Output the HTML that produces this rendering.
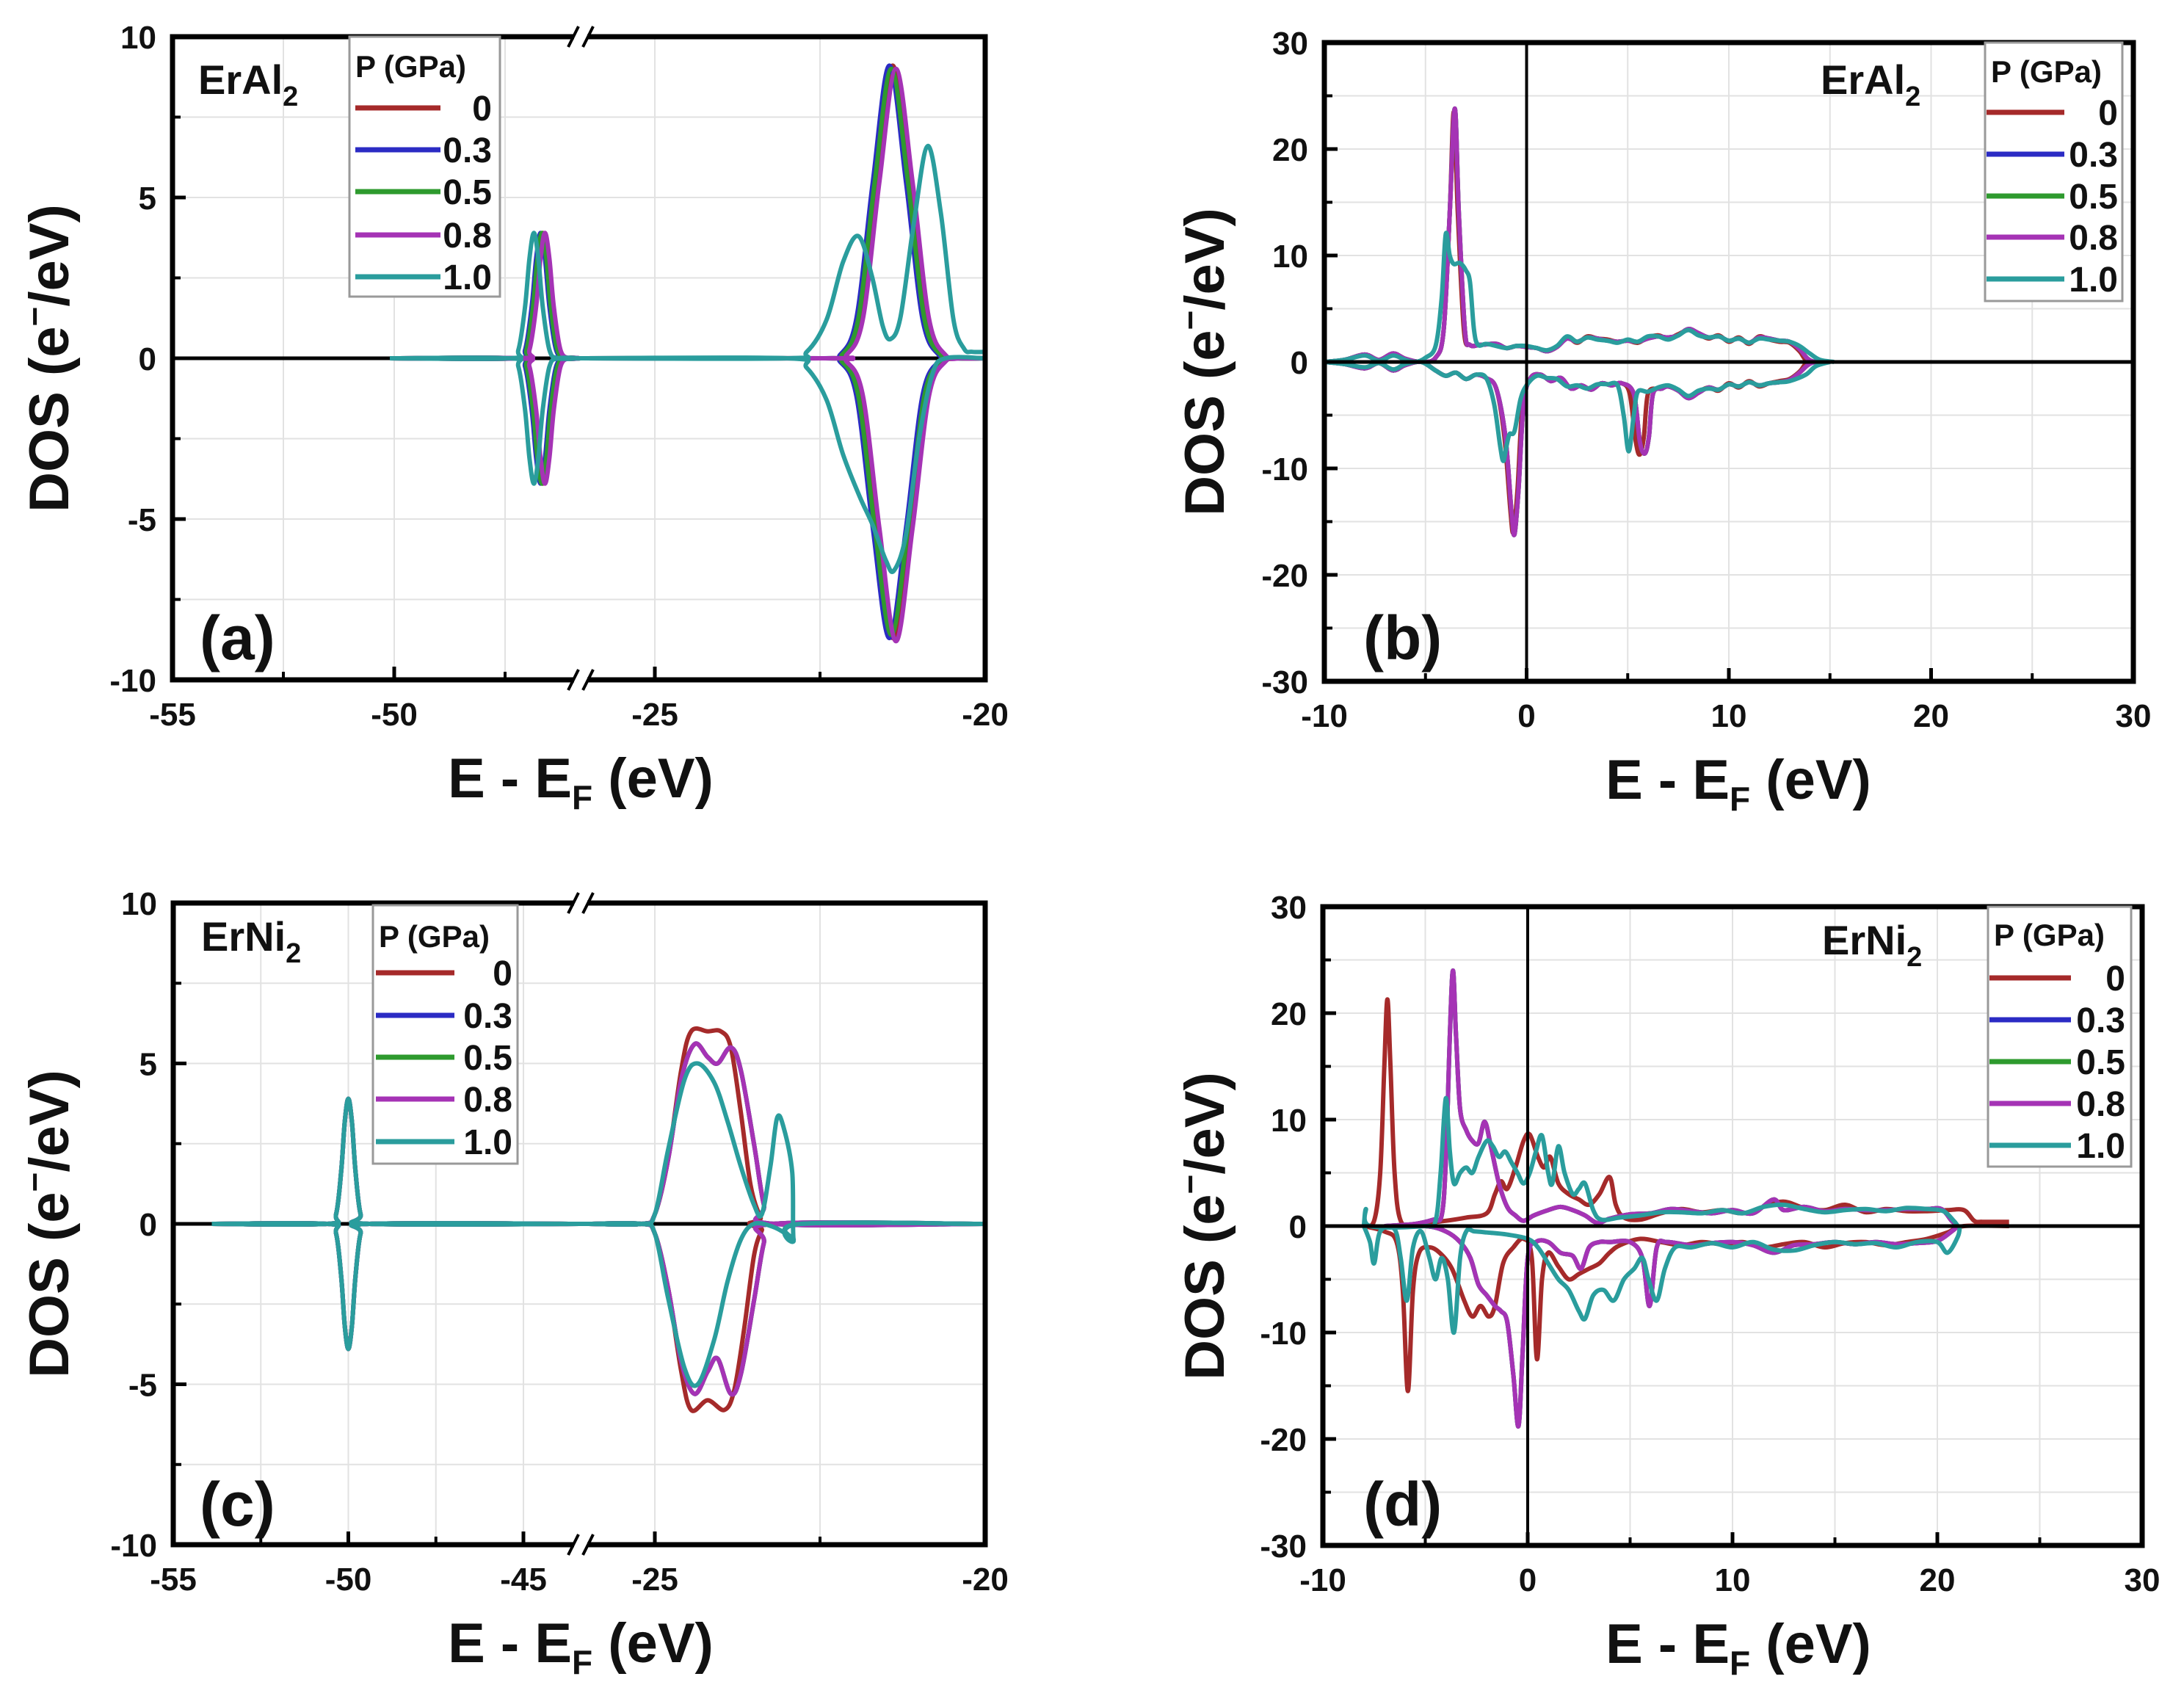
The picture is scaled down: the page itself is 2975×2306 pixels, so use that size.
<!DOCTYPE html>
<html><head><meta charset="utf-8"><style>
html,body{margin:0;padding:0;background:#fff}
svg{display:block}
text{font-family:"Liberation Sans",Arial,sans-serif;font-weight:bold;fill:#111}
</style></head><body>
<svg id="fig" width="2975" height="2306" viewBox="0 0 2975 2306" xmlns="http://www.w3.org/2000/svg"></svg>
<script>
// ---------- series metadata ----------
const pressures = ['0','0.3','0.5','0.8','1.0'];
const colors = ['#a52a2a','#2b2bc4','#2e9a2e','#a533b5','#2a9d9d'];

// ---------- panel (a) ErAl2 semicore ----------
const aUp0 = [[-50.1,0],[-47.2,0],[-47.0,0.26],[-46.85,1.6],[-46.75,3.1],[-46.65,3.9],[-46.55,3.1],[-46.45,1.6],[-46.3,0.26],[-46.1,0],[-45.8,0],[-26.1,0],[-22.4,0],[-22.15,0.1],[-21.9,1.23],[-21.65,5.5],[-21.4,9.1],[-21.15,5.5],[-20.9,1.23],[-20.65,0.1],[-20.4,0],[-20,0]];
const aDn0 = [[-50.1,0],[-47.2,0],[-47.0,-0.26],[-46.85,-1.6],[-46.75,-3.1],[-46.65,-3.9],[-46.55,-3.1],[-46.45,-1.6],[-46.3,-0.26],[-46.1,0],[-45.8,0],[-26.1,0],[-22.4,0],[-22.15,-0.1],[-21.9,-1.17],[-21.65,-5.3],[-21.4,-8.7],[-21.15,-5.3],[-20.9,-1.17],[-20.65,-0.1],[-20.4,0],[-20,0]];
const aUp3 = [[-50.1,0],[-47.25,0],[-47.05,0.26],[-46.9,1.6],[-46.8,3.1],[-46.7,3.9],[-46.6,3.1],[-46.5,1.6],[-46.35,0.26],[-46.15,0],[-45.8,0],[-26.1,0],[-22.45,0],[-22.2,0.1],[-21.95,1.23],[-21.7,5.5],[-21.45,9.1],[-21.2,5.5],[-20.95,1.23],[-20.7,0.1],[-20.45,0],[-20,0]];
const aDn3 = [[-50.1,0],[-47.25,0],[-47.05,-0.26],[-46.9,-1.6],[-46.8,-3.1],[-46.7,-3.9],[-46.6,-3.1],[-46.5,-1.6],[-46.35,-0.26],[-46.15,0],[-45.8,0],[-26.1,0],[-22.45,0],[-22.2,-0.1],[-21.95,-1.17],[-21.7,-5.3],[-21.45,-8.7],[-21.2,-5.3],[-20.95,-1.17],[-20.7,-0.1],[-20.45,0],[-20,0]];
const aUp5 = [[-50.1,0],[-47.22,0],[-47.02,0.26],[-46.87,1.6],[-46.77,3.1],[-46.67,3.9],[-46.57,3.1],[-46.47,1.6],[-46.32,0.26],[-46.12,0],[-45.8,0],[-26.1,0],[-22.42,0],[-22.17,0.1],[-21.92,1.23],[-21.67,5.5],[-21.42,9.0],[-21.17,5.5],[-20.92,1.23],[-20.67,0.1],[-20.42,0],[-20,0]];
const aDn5 = [[-50.1,0],[-47.22,0],[-47.02,-0.26],[-46.87,-1.6],[-46.77,-3.1],[-46.67,-3.9],[-46.57,-3.1],[-46.47,-1.6],[-46.32,-0.26],[-46.12,0],[-45.8,0],[-26.1,0],[-22.42,0],[-22.17,-0.1],[-21.92,-1.17],[-21.67,-5.3],[-21.42,-8.6],[-21.17,-5.3],[-20.92,-1.17],[-20.67,-0.1],[-20.42,0],[-20,0]];
const aUp8 = [[-50.1,0],[-47.15,0],[-46.95,0.26],[-46.8,1.6],[-46.7,3.1],[-46.6,3.9],[-46.5,3.1],[-46.4,1.6],[-46.25,0.26],[-46.05,0],[-45.8,0],[-26.1,0],[-22.35,0],[-22.1,0.1],[-21.85,1.23],[-21.6,5.5],[-21.35,9.0],[-21.1,5.5],[-20.85,1.23],[-20.6,0.1],[-20.35,0],[-20,0]];
const aDn8 = [[-50.1,0],[-47.15,0],[-46.95,-0.26],[-46.8,-1.6],[-46.7,-3.1],[-46.6,-3.9],[-46.5,-3.1],[-46.4,-1.6],[-46.25,-0.26],[-46.05,0],[-45.8,0],[-26.1,0],[-22.35,0],[-22.1,-0.1],[-21.85,-1.17],[-21.6,-5.3],[-21.35,-8.8],[-21.1,-5.3],[-20.85,-1.17],[-20.6,-0.1],[-20.35,0],[-20,0]];
const aUp10 = [[-50.1,0],[-47.4,0],[-47.2,0.26],[-47.05,1.6],[-46.95,3.1],[-46.85,3.9],[-46.75,3.1],[-46.65,1.6],[-46.5,0.26],[-46.3,0],[-45.8,0],[-26.1,0],[-23.0,0],[-22.7,0.2],[-22.4,1.2],[-22.15,3.0],[-21.92,3.8],[-21.72,2.6],[-21.55,1.0],[-21.43,0.6],[-21.28,1.3],[-21.08,4.2],[-20.87,6.6],[-20.67,4.5],[-20.48,1.2],[-20.32,0.3],[-20.2,0.2],[-20,0.2]];
const aDn10 = [[-50.1,0],[-47.4,0],[-47.2,-0.26],[-47.05,-1.6],[-46.95,-3.1],[-46.85,-3.9],[-46.75,-3.1],[-46.65,-1.6],[-46.5,-0.26],[-46.3,0],[-45.8,0],[-26.1,0],[-23.0,0],[-22.7,-0.3],[-22.4,-1.3],[-22.15,-3.0],[-21.9,-4.3],[-21.7,-5.2],[-21.5,-6.3],[-21.38,-6.6],[-21.2,-5.5],[-21.0,-2.5],[-20.8,-0.5],[-20.6,0],[-20,0]];

// ---------- panel (b) ErAl2 valence ----------
const bUp0 = [[-10,0],[-9,0.2],[-8,0.7],[-7.3,0.2],[-6.6,0.8],[-6,0.3],[-5.2,0],[-4.5,0.4],[-4.1,3],[-3.8,14],[-3.6,23.5],[-3.4,14],[-3.1,3],[-2.8,1.6],[-2.3,1.6],[-1.5,1.7],[-1,1.3],[-0.5,1.5],[0,1.4],[0.5,1.3],[1,1.0],[1.5,1.4],[2,2.3],[2.5,1.8],[3,2.4],[3.5,2.2],[4,2.1],[4.5,1.9],[5,2.0],[5.5,1.8],[6,2.3],[6.5,2.5],[7,2.2],[7.5,2.6],[8,3.0],[8.5,2.6],[9,2.2],[9.5,2.5],[10,1.9],[10.5,2.3],[11,1.7],[11.5,2.4],[12,2.1],[12.5,1.9],[13,1.8],[13.5,1.0],[13.8,0.2],[14.2,0],[15,0]];
const bDn0 = [[-10,0],[-9,-0.2],[-8,-0.6],[-7.3,-0.1],[-6.6,-0.8],[-6,-0.3],[-5.2,0],[-4.5,-0.8],[-4,-1.3],[-3.5,-1.0],[-3,-1.6],[-2.5,-1.2],[-2,-1.5],[-1.5,-2.5],[-1.1,-7],[-0.8,-14],[-0.65,-16],[-0.45,-12],[-0.2,-4],[0.2,-1.5],[0.7,-1.2],[1.2,-1.8],[1.7,-1.5],[2.2,-2.5],[2.7,-2.2],[3.2,-2.6],[3.7,-2.0],[4.2,-2.2],[4.7,-2.0],[5.1,-3.0],[5.4,-7.5],[5.6,-8.7],[5.8,-7.0],[6.0,-3.0],[6.5,-2.5],[7,-2.3],[7.5,-2.7],[8,-3.3],[8.5,-2.8],[9,-2.4],[9.5,-2.7],[10,-2.0],[10.5,-2.4],[11,-1.8],[11.5,-2.3],[12,-2.0],[12.5,-1.8],[13,-1.6],[13.5,-0.9],[13.8,-0.2],[14.2,0],[15,0]];
const bUpMid = [[-10,0],[-9,0.2],[-8,0.7],[-7.3,0.2],[-6.6,0.8],[-6,0.3],[-5.2,0],[-4.5,0.4],[-4.1,3],[-3.8,14],[-3.55,23.8],[-3.35,14],[-3.05,3],[-2.8,1.6],[-2.3,1.6],[-1.5,1.7],[-1,1.3],[-0.5,1.5],[0,1.4],[0.5,1.3],[1,1.0],[1.5,1.4],[2,2.2],[2.5,1.9],[3,2.3],[3.5,2.2],[4,2.0],[4.5,1.9],[5,2.0],[5.5,1.9],[6,2.2],[6.5,2.4],[7,2.3],[7.5,2.5],[8,3.1],[8.5,2.7],[9,2.3],[9.5,2.4],[10,2.0],[10.5,2.2],[11,1.8],[11.5,2.3],[12,2.2],[12.5,2.0],[13,1.9],[13.5,1.2],[13.9,0.3],[14.3,0],[15,0]];
const bDnMid = [[-10,0],[-9,-0.2],[-8,-0.6],[-7.3,-0.1],[-6.6,-0.8],[-6,-0.3],[-5.2,0],[-4.5,-0.8],[-4,-1.3],[-3.5,-1.0],[-3,-1.6],[-2.5,-1.2],[-2,-1.5],[-1.5,-2.5],[-1.05,-7],[-0.75,-14],[-0.6,-16.2],[-0.4,-12],[-0.15,-4],[0.2,-1.5],[0.7,-1.2],[1.2,-1.8],[1.7,-1.5],[2.2,-2.5],[2.7,-2.2],[3.2,-2.6],[3.7,-2.0],[4.2,-2.2],[4.7,-2.0],[5.3,-3.0],[5.6,-7.5],[5.85,-8.6],[6.05,-7.0],[6.25,-3.0],[6.7,-2.5],[7,-2.3],[7.5,-2.7],[8,-3.4],[8.5,-2.9],[9,-2.4],[9.5,-2.6],[10,-2.1],[10.5,-2.3],[11,-1.9],[11.5,-2.2],[12,-2.0],[12.5,-1.9],[13,-1.7],[13.5,-1.0],[13.9,-0.3],[14.3,0],[15,0]];
const bUp10 = [[-10,0],[-9,0.2],[-8,0.6],[-7.3,0.1],[-6.6,0.6],[-6,0.2],[-5.5,0],[-5,0.4],[-4.5,1.5],[-4.2,6],[-4.0,12],[-3.8,10],[-3.6,9.2],[-3.3,9.3],[-3.0,8.6],[-2.8,7.5],[-2.6,3],[-2.4,1.6],[-2,1.7],[-1.5,1.5],[-1,1.3],[-0.5,1.5],[0,1.5],[0.5,1.3],[1,1.1],[1.5,1.5],[2,2.4],[2.5,1.9],[3,2.3],[3.5,2.1],[4,2.0],[4.5,1.8],[5,2.1],[5.5,1.9],[6,2.4],[6.5,2.4],[7,2.1],[7.5,2.5],[8,3.0],[8.5,2.5],[9,2.3],[9.5,2.4],[10,2.0],[10.5,2.2],[11,1.8],[11.5,2.2],[12,2.1],[12.5,2.0],[13,1.9],[13.5,1.5],[14,0.8],[14.5,0.2],[15.2,0]];
const bDn10 = [[-10,0],[-9,-0.2],[-8,-0.5],[-7.3,-0.1],[-6.6,-0.7],[-6,-0.2],[-5.2,0],[-4.5,-0.8],[-4,-1.3],[-3.5,-1.0],[-3,-1.6],[-2.5,-1.2],[-2,-1.5],[-1.6,-4],[-1.3,-8],[-1.15,-9.3],[-1.0,-8],[-0.85,-6.8],[-0.6,-6.5],[-0.3,-3.5],[0,-2.2],[0.5,-1.3],[1,-1.5],[1.5,-1.6],[2,-2.3],[2.5,-2.2],[3,-2.5],[3.5,-2.1],[4,-2.1],[4.5,-2.2],[4.8,-5],[5.05,-8.4],[5.3,-5],[5.5,-2.8],[6,-2.8],[6.5,-2.4],[7,-2.2],[7.5,-2.6],[8,-3.2],[8.5,-2.7],[9,-2.5],[9.5,-2.6],[10,-2.1],[10.5,-2.3],[11,-1.9],[11.5,-2.2],[12,-2.0],[12.5,-1.9],[13,-1.8],[13.8,-1.2],[14.3,-0.4],[15,0]];

// ---------- panel (c) ErNi2 semicore ----------
const cUp0 = [[-53.9,0],[-50.6,0],[-50.35,0.3],[-50.2,1.7],[-50.1,3.2],[-50.0,3.9],[-49.9,3.2],[-49.8,1.7],[-49.65,0.3],[-49.4,0],[-43.4,0],[-26,0],[-25.2,0],[-25.0,0.3],[-24.8,2.0],[-24.6,4.8],[-24.45,6.0],[-24.2,6.0],[-24.0,6.0],[-23.85,5.5],[-23.7,3.5],[-23.55,1.2],[-23.4,0.2],[-23.3,0],[-20,0]];
const cDn0 = [[-53.9,0],[-50.6,0],[-50.35,-0.3],[-50.2,-1.7],[-50.1,-3.2],[-50.0,-3.9],[-49.9,-3.2],[-49.8,-1.7],[-49.65,-0.3],[-49.4,0],[-43.4,0],[-26,0],[-25.2,0],[-25.0,-0.3],[-24.8,-2.0],[-24.6,-4.6],[-24.45,-5.8],[-24.2,-5.5],[-23.95,-5.8],[-23.8,-5.2],[-23.65,-3.3],[-23.5,-1.0],[-23.38,-0.2],[-23.3,0],[-20,0]];
const cUpMid = [[-53.9,0],[-50.6,0],[-50.35,0.3],[-50.2,1.7],[-50.1,3.2],[-50.0,3.9],[-49.9,3.2],[-49.8,1.7],[-49.65,0.3],[-49.4,0],[-43.4,0],[-26,0],[-25.2,0],[-25.0,0.3],[-24.8,2.0],[-24.6,4.5],[-24.4,5.6],[-24.2,5.2],[-24.05,5.0],[-23.85,5.5],[-23.7,4.8],[-23.5,2.5],[-23.35,0.6],[-23.2,0],[-20,0]];
const cDnMid = [[-53.9,0],[-50.6,0],[-50.35,-0.3],[-50.2,-1.7],[-50.1,-3.2],[-50.0,-3.9],[-49.9,-3.2],[-49.8,-1.7],[-49.65,-0.3],[-49.4,0],[-43.4,0],[-26,0],[-25.2,0],[-25.0,-0.3],[-24.8,-2.0],[-24.6,-4.3],[-24.4,-5.3],[-24.2,-4.6],[-24.05,-4.2],[-23.85,-5.3],[-23.7,-4.7],[-23.5,-2.4],[-23.35,-0.6],[-23.2,0],[-20,0]];
const cUp10 = [[-53.9,0],[-50.6,0],[-50.35,0.3],[-50.2,1.7],[-50.1,3.2],[-50.0,3.9],[-49.9,3.2],[-49.8,1.7],[-49.65,0.3],[-49.4,0],[-43.4,0],[-26,0],[-25.2,0],[-25.0,0.3],[-24.8,2.3],[-24.55,4.5],[-24.35,5.0],[-24.1,4.4],[-23.9,3.2],[-23.7,1.8],[-23.5,0.6],[-23.38,0.3],[-23.25,1.8],[-23.15,3.3],[-23.05,3.0],[-22.92,1.6],[-22.9,-0.5],[-22.8,0],[-20,0]];
const cDn10 = [[-53.9,0],[-50.6,0],[-50.35,-0.3],[-50.2,-1.7],[-50.1,-3.2],[-50.0,-3.9],[-49.9,-3.2],[-49.8,-1.7],[-49.65,-0.3],[-49.4,0],[-43.4,0],[-26,0],[-25.2,0],[-25.0,-0.3],[-24.8,-2.3],[-24.55,-4.5],[-24.35,-5.0],[-24.1,-3.6],[-23.9,-1.8],[-23.7,-0.5],[-23.5,0],[-23.2,-0.1],[-22.95,-0.4],[-22.9,-0.5],[-22.8,0],[-20,0]];

// ---------- panel (d) ErNi2 valence ----------
const dUp0 = [[-8,0],[-7.5,0.5],[-7.2,5],[-7.0,15],[-6.85,21.3],[-6.7,15],[-6.5,5],[-6.2,0.5],[-5.5,0.2],[-4,0.5],[-3,0.8],[-2,1.2],[-1.6,3],[-1.3,4.2],[-1.0,3.5],[-0.6,5.5],[-0.2,8],[0.1,8.6],[0.5,6.5],[0.8,5.5],[1.1,6.5],[1.5,4],[2,3],[2.5,2.5],[3,2],[3.5,3],[4,4.6],[4.3,2],[4.7,0.8],[5.5,0.6],[6.5,1.2],[7.5,1.6],[8.5,1.3],[9.5,1.5],[10.5,1.2],[11.5,1.8],[12.5,2.3],[13.5,1.7],[14.5,1.5],[15.5,2.0],[16.5,1.3],[17.5,1.6],[18.5,1.4],[19.5,1.4],[20.5,1.5],[21.3,1.5],[21.8,0.5],[22.2,0.4],[23.5,0.4]];
const dDn0 = [[-8,0],[-7,-0.5],[-6.4,-1.5],[-6.1,-6],[-5.85,-15.5],[-5.6,-6],[-5.3,-2.5],[-4.8,-2],[-4.3,-2.5],[-3.7,-4],[-3.1,-7],[-2.7,-8.5],[-2.3,-7.5],[-1.9,-8.5],[-1.6,-7.5],[-1.2,-3.5],[-0.7,-2.0],[-0.2,-1.2],[0.2,-3],[0.45,-12.5],[0.7,-5],[1.0,-2.5],[1.5,-3.8],[2,-5],[2.5,-4.5],[3,-4],[3.5,-3.5],[4,-2.5],[4.5,-1.8],[5.5,-1.2],[6.5,-1.5],[7.5,-1.8],[8.5,-1.5],[9.5,-1.7],[10.5,-1.5],[11.5,-2.0],[12.5,-1.7],[13.5,-1.5],[14.5,-2.0],[15.5,-1.6],[16.5,-1.5],[17.5,-1.8],[18.5,-1.5],[19.5,-1.2],[20.5,-0.6],[21.3,0],[23.5,0]];
const dUpMid = [[-7,0],[-5.5,0.2],[-4.6,0.6],[-4.2,1],[-4.0,6],[-3.8,18],[-3.65,24],[-3.5,18],[-3.3,11],[-3.0,9],[-2.7,8],[-2.4,7.8],[-2.1,9.8],[-1.8,7.5],[-1.4,4],[-1.0,1.8],[-0.6,1.0],[-0.2,0.5],[0.3,1],[1,1.5],[1.6,1.8],[2.2,1.5],[2.8,1],[3.4,0.3],[4,0.7],[5,1.1],[6,1.2],[7,1.6],[8,1.4],[9,1.2],[10,1.5],[11,1.2],[12,2.5],[12.5,1.5],[13.5,1.8],[14.5,1.4],[15.5,1.6],[16.5,1.5],[17.5,1.5],[18.5,1.6],[19.5,1.6],[20.2,1.6],[20.7,0.5],[21,0]];
const dDnMid = [[-7,0],[-5,0],[-4,-0.5],[-3.3,-1.5],[-2.8,-3],[-2.4,-5.5],[-2.0,-6.5],[-1.6,-7.5],[-1.3,-8],[-1.0,-9],[-0.7,-14],[-0.45,-18.8],[-0.25,-12],[0,-3],[0.4,-1.5],[1,-1.5],[1.6,-2.5],[2.2,-2.8],[2.6,-4],[3.0,-2],[3.5,-1.5],[4,-1.5],[5,-1.5],[5.6,-3],[5.95,-7.5],[6.3,-2],[6.8,-1.5],[8,-1.8],[9,-1.6],[10,-1.5],[11,-1.8],[12,-2.5],[13,-1.8],[14,-1.7],[15,-1.5],[16,-1.7],[17,-1.5],[18,-1.7],[19,-1.6],[20,-1.4],[20.7,-0.5],[21,0]];
const dUp10 = [[-8,0],[-7.9,1.6],[-7.7,0],[-5,0],[-4.5,0.5],[-4.25,5],[-4.0,12],[-3.8,7],[-3.6,4],[-3.3,5],[-3.0,5.5],[-2.7,5],[-2.4,6.5],[-2.0,8],[-1.7,7.5],[-1.4,6.5],[-1.1,7],[-0.8,6],[-0.5,5],[-0.2,4],[0.1,5],[0.4,7],[0.7,8.5],[1.0,5],[1.2,4],[1.5,7.5],[1.8,5],[2.2,3],[2.5,3.5],[2.8,4],[3.2,1.5],[3.6,0.6],[4.5,0.8],[5.5,1],[6.5,1.3],[7.5,1.3],[8.5,1.2],[9.5,1.5],[10.5,1.2],[11.5,1.8],[12.5,2.0],[13.5,1.6],[14.5,1.3],[15.5,1.5],[16.5,1.6],[17.5,1.4],[18.5,1.7],[19.5,1.6],[20.3,1.4],[20.8,0.5],[21,0]];
const dDn10 = [[-8,0],[-7.7,-1.5],[-7.5,-3.5],[-7.2,-0.5],[-6.5,-0.3],[-6.2,-3],[-5.9,-7],[-5.6,-2],[-5.2,-0.5],[-4.8,-3],[-4.5,-5],[-4.2,-3],[-3.9,-5],[-3.6,-10],[-3.3,-3],[-3.0,-0.5],[-2.6,-0.5],[-2,-0.6],[-1,-0.8],[0,-1.2],[0.5,-2],[1,-3.5],[1.5,-5],[2.0,-6],[2.5,-8],[2.8,-8.7],[3.2,-6.5],[3.7,-6],[4.2,-7],[4.7,-5],[5.2,-4],[5.6,-3],[5.9,-5],[6.3,-7],[6.7,-4],[7.2,-2],[8,-2],[9,-1.6],[10,-2],[11,-1.5],[12,-2.2],[13,-2.3],[14,-1.8],[15,-1.5],[16,-1.7],[17,-1.6],[18,-2],[19,-1.5],[20,-1.5],[20.5,-2.5],[21,-1],[21.1,0]];

// ---------- tick labels ----------
const aXTicks = [-55,-50,-25,-20];
const aXMinor = [-52.5,-47.5,-22.5];
const cXTicks = [-55,-50,-45,-25,-20];
const cXMinor = [-52.5,-47.5,-22.5];
const abYTicks = [-10,-5,0,5,10];
const abYMinor = [-7.5,-2.5,2.5,7.5];
const vXTicks = [-10,0,10,20,30];
const vXMinor = [-5,5,15,25];
const vYTicks = [-30,-20,-10,0,10,20,30];
const vYMinor = [-25,-15,-5,5,15,25];

// ---------- drawing ----------
const NS = 'http://www.w3.org/2000/svg';
const svg = document.getElementById('fig');
function el(tag, attrs, parent){
  const e = document.createElementNS(NS, tag);
  for (const k in attrs) e.setAttribute(k, attrs[k]);
  (parent||svg).appendChild(e);
  return e;
}
function smoothPath(pts){
  let d = 'M' + pts[0][0].toFixed(1) + ' ' + pts[0][1].toFixed(1);
  for (let i=0;i<pts.length-1;i++){
    const p0 = pts[i-1]||pts[i], p1 = pts[i], p2 = pts[i+1], p3 = pts[i+2]||p2;
    const c1x = p1[0]+(p2[0]-p0[0])/6, c1y = p1[1]+(p2[1]-p0[1])/6;
    const c2x = p2[0]-(p3[0]-p1[0])/6, c2y = p2[1]-(p3[1]-p1[1])/6;
    d += ' C'+c1x.toFixed(1)+' '+c1y.toFixed(1)+' '+c2x.toFixed(1)+' '+c2y.toFixed(1)+' '+p2[0].toFixed(1)+' '+p2[1].toFixed(1);
  }
  return d;
}
function makeBroken(L, R, leftMin, leftScale, breakPx){
  return e => {
    const xl = L + (e - leftMin) * leftScale;
    const xr = 892 + (e + 25) * 90;
    if (xl <= breakPx) return xl;
    if (xr >= breakPx) return xr;
    return breakPx;
  };
}
function makeLinear(L, R, xmin, xmax){ return e => L + (e - xmin) / (xmax - xmin) * (R - L); }

const panels = [
  {id:'a', L:235, R:1342, T:50, B:926, ymin:-10, ymax:10, x:makeBroken(235,1342,-55,60.4,791), brk:791,
   xt:aXTicks, xm:aXMinor, yt:abYTicks, ym:abYMinor, zeroOnTop:false,
   series:[[aUp0,aDn0],[aUp3,aDn3],[aUp5,aDn5],[aUp8,aDn8],[aUp10,aDn10]],
   compound:['ErAl','2',270,128], tag:['(a)',272,898],
   leg:{x:476,y:50,w:205,h:354,title:105,rows:[147,204,261,320,377],l1:484,l2:600,tx:670}},
  {id:'b', L:1804, R:2906, T:58, B:928, ymin:-30, ymax:30, x:makeLinear(1804,2906,-10,30), brk:null,
   xt:vXTicks, xm:vXMinor, yt:vYTicks, ym:vYMinor, zeroOnTop:true,
   series:[[bUp0,bDn0],[bUpMid,bDnMid],[bUpMid,bDnMid],[bUpMid,bDnMid],[bUp10,bDn10]],
   compound:['ErAl','2',2480,128], tag:['(b)',1857,898],
   leg:{x:2704,y:58,w:187,h:352,title:112,rows:[153,210,267,323,380],l1:2706,l2:2812,tx:2885}},
  {id:'c', L:236, R:1342, T:1230, B:2104, ymin:-10, ymax:10, x:makeBroken(236,1342,-55,47.7,791), brk:791,
   xt:cXTicks, xm:cXMinor, yt:abYTicks, ym:abYMinor, zeroOnTop:false,
   series:[[cUp0,cDn0],[cUpMid,cDnMid],[cUpMid,cDnMid],[cUpMid,cDnMid],[cUp10,cDn10]],
   compound:['ErNi','2',274,1295], tag:['(c)',272,2078],
   leg:{x:508,y:1233,w:197,h:352,title:1290,rows:[1325,1383,1440,1497,1555],l1:512,l2:619,tx:698}},
  {id:'d', L:1802, R:2918, T:1235, B:2105, ymin:-30, ymax:30, x:makeLinear(1802,2918,-10,30), brk:null,
   xt:vXTicks, xm:vXMinor, yt:vYTicks, ym:vYMinor, zeroOnTop:true,
   series:[[dUp0,dDn0],[dUpMid,dDnMid],[dUpMid,dDnMid],[dUpMid,dDnMid],[dUp10,dDn10]],
   compound:['ErNi','2',2482,1300], tag:['(d)',1857,2078],
   leg:{x:2708,y:1235,w:195,h:354,title:1288,rows:[1332,1389,1446,1503,1560],l1:2710,l2:2821,tx:2895}}
];

panels.forEach(p => {
  const g = el('g', {});
  
  
  const Y = v => p.B - (v - p.ymin) / (p.ymax - p.ymin) * (p.B - p.T);
  p.xt.concat(p.xm).forEach(v => {
    const x = p.x(v);
    if (x > p.L + 3 && x < p.R - 3) {
      const gl = el('line', {x1:x, x2:x, y1:p.T, y2:p.B, stroke:'#e2e2e2', 'stroke-width':2}, g);
      
      
    }
  });
  p.yt.concat(p.ym).forEach(v => {
    const y = Y(v);
    if (y > p.T + 3 && y < p.B - 3) {
      const gl = el('line', {x1:p.L, x2:p.R, y1:y, y2:y, stroke:'#e2e2e2', 'stroke-width':2}, g);
      
      
    }
  });
  const zero = () => {
    const z = el('line', {x1:p.L, x2:p.R, y1:Y(0), y2:Y(0), stroke:'#000', 'stroke-width':5}, g);
    
    
    if (p.id === 'b' || p.id === 'd') {
      const v0 = el('line', {x1:p.x(0), x2:p.x(0), y1:p.T, y2:p.B, stroke:'#000', 'stroke-width':4}, g);
      
      
    }
  };
  if (!p.zeroOnTop) zero();
  p.series.forEach((pair, si) => {
    pair.forEach((arr, k) => {
      const pts = arr.map(d => [p.x(d[0]), Y(d[1])]);
      const path = el('path', {d:smoothPath(pts), fill:'none', stroke:colors[si], 'stroke-width':6, 'stroke-linejoin':'round'}, g);
      
      
    });
  });
  if (p.zeroOnTop) zero();
  const fr = el('rect', {x:p.L, y:p.T, width:p.R-p.L, height:p.B-p.T, fill:'none', stroke:'#000', 'stroke-width':7}, g);
  
  
  p.xt.forEach(v => {
    const x = p.x(v);
    if (x > p.L + 3 && x < p.R - 3) el('line', {x1:x, x2:x, y1:p.B, y2:p.B-18, stroke:'#000', 'stroke-width':5}, g);
    const t = el('text', {x:x, y:p.B+62, 'font-size':44, 'text-anchor':'middle'}, g);
    t.textContent = v;
    
    
  });
  p.xm.forEach(v => { const x = p.x(v); el('line', {x1:x, x2:x, y1:p.B, y2:p.B-11, stroke:'#000', 'stroke-width':4}, g); });
  p.yt.forEach(v => {
    const y = Y(v);
    if (y > p.T + 3 && y < p.B - 3) el('line', {x1:p.L, x2:p.L+18, y1:y, y2:y, stroke:'#000', 'stroke-width':5}, g);
    const t = el('text', {x:p.L-22, y:y+16, 'font-size':44, 'text-anchor':'end'}, g);
    t.textContent = v;
    
    
  });
  p.ym.forEach(v => { const y = Y(v); el('line', {x1:p.L, x2:p.L+11, y1:y, y2:y, stroke:'#000', 'stroke-width':4}, g); });
  if (p.brk) {
    [p.T, p.B].forEach(yy => {
      const bk = el('g', {}, g);
      
      
      el('rect', {x:p.brk-9, y:yy-9, width:18, height:18, fill:'#fff'}, bk);
      el('line', {x1:p.brk-17, y1:yy+14, x2:p.brk-3, y2:yy-14, stroke:'#000', 'stroke-width':4}, bk);
      el('line', {x1:p.brk+3, y1:yy+14, x2:p.brk+17, y2:yy-14, stroke:'#000', 'stroke-width':4}, bk);
    });
  }
  const xc = p.id === 'a' || p.id === 'c' ? 791 : 2368;
  const xy = p.B + 160;
  const xt = el('text', {x:xc, y:xy, 'font-size':76, 'text-anchor':'middle'}, g);
  
  
  xt.innerHTML = 'E - E<tspan font-size="46" dy="16">F</tspan><tspan dy="-16"> (eV)</tspan>';
  const ycx = p.id === 'a' || p.id === 'c' ? 66 : 1640;
  const ycy = (p.T + p.B) / 2;
  const yt = el('text', {x:ycx, y:ycy, 'font-size':76, 'text-anchor':'middle', transform:'rotate(-90 '+ycx+' '+ycy+') translate(0 27)'}, g);
  
  
  yt.innerHTML = 'DOS (e<tspan font-size="46" dy="-30">−</tspan><tspan dy="30">/eV)</tspan>';
  const cl = el('text', {x:p.compound[2], y:p.compound[3], 'font-size':56}, g);
  
  
  cl.innerHTML = p.compound[0] + '<tspan font-size="38" dy="16">' + p.compound[1] + '</tspan>';
  const tg = el('text', {x:p.tag[1], y:p.tag[2], 'font-size':84}, g);
  tg.textContent = p.tag[0];
  
  
  const lg = el('g', {}, g);
  
  
  const L = p.leg;
  el('rect', {x:L.x, y:L.y, width:L.w, height:L.h, fill:'#fff', stroke:'#999', 'stroke-width':3}, lg);
  const lt = el('text', {x:L.x+8, y:L.title, 'font-size':42}, lg);
  lt.textContent = 'P (GPa)';
  
  
  L.rows.forEach((ry, i) => {
    const en = el('g', {}, lg);
    
    
    el('line', {x1:L.l1, x2:L.l2, y1:ry, y2:ry, stroke:colors[i], 'stroke-width':7}, en);
    const tx = el('text', {x:L.tx, y:ry+17, 'font-size':48, 'text-anchor':'end'}, en);
    tx.textContent = pressures[i];
  });
});
</script>
</body></html>
